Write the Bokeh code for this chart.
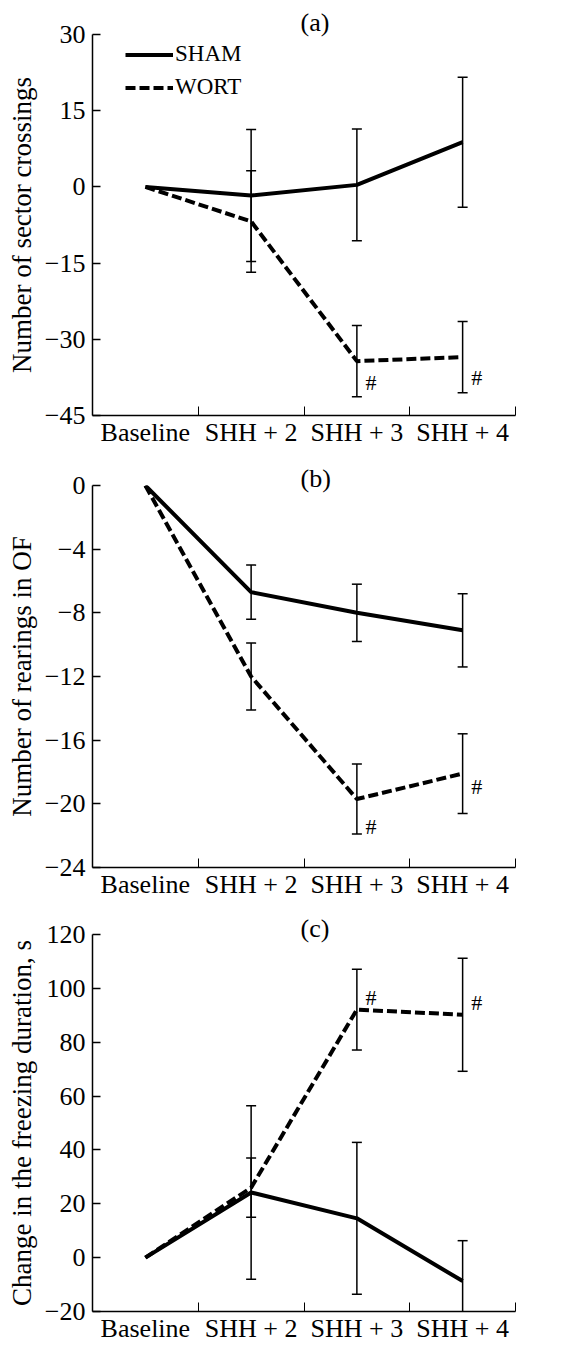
from bokeh.plotting import figure
from bokeh.models import FixedTicker, ColumnDataSource, Range1d, Title
from bokeh.layouts import column
from bokeh.embed import file_html
from bokeh.resources import INLINE
from bokeh.core.properties import value

# ---------------- data ----------------
categories = ["Baseline", "SHH + 2", "SHH + 3", "SHH + 4"]

a_sham = [0, -1.7, 0.4, 8.8]
a_sham_err = [0, 13.0, 11.0, 12.8]
a_wort = [0, -6.8, -34.3, -33.5]
a_wort_err = [0, 10.0, 7.0, 7.0]

b_sham = [0, -6.7, -8.0, -9.1]
b_sham_err = [0, 1.7, 1.8, 2.3]
b_wort = [0, -12.0, -19.7, -18.1]
b_wort_err = [0, 2.1, 2.2, 2.5]

c_sham = [0, 24.2, 14.6, -8.7]
c_sham_err = [0, 32.2, 28.2, 15.0]
c_wort = [0, 26.0, 92.1, 90.2]
c_wort_err = [0, 11.0, 15.0, 21.0]

a_ticks = [30, 15, 0, -15, -30, -45]
b_ticks = [0, -4, -8, -12, -16, -20, -24]
c_ticks = [120, 100, 80, 60, 40, 20, 0, -20]

significant = [False, False, True, True]   # "#" marks on WORT

FONT = "Liberation Serif"


def fmt(t):
    return ("\u2212" + str(abs(t))) if t < 0 else str(t)


def make_panel(letter, ylabel, yticks, sham, sham_err, wort, wort_err,
               hash_dy, height, top, bottom, title_standoff, legend=False):
    n = len(categories)
    xs = [i + 0.5 for i in range(n)]
    p = figure(width=564, height=height, output_backend="svg", toolbar_location=None,
               x_range=Range1d(0, n), y_range=Range1d(min(yticks), max(yticks)),
               min_border_left=92, min_border_right=49,
               min_border_top=top, min_border_bottom=bottom)
    p.outline_line_color = None
    p.xgrid.visible = False
    p.ygrid.visible = False

    # y axis
    ya = p.yaxis[0]
    ya.ticker = FixedTicker(ticks=yticks)
    ya.major_label_overrides = {t: fmt(t) for t in yticks}
    ya.major_tick_in = 8
    ya.major_tick_out = 0
    ya.minor_tick_line_color = None
    ya.axis_line_width = 1.5
    ya.major_tick_line_width = 1.5
    ya.major_label_standoff = 7
    ya.major_label_text_font = FONT
    ya.major_label_text_font_size = "26px"
    ya.major_label_text_color = "black"
    ya.axis_label = ylabel
    ya.axis_label_text_font = FONT
    ya.axis_label_text_font_size = "27px"
    ya.axis_label_text_font_style = "normal"
    ya.axis_label_text_color = "black"
    ya.axis_label_standoff = 5

    # x axis
    xa = p.xaxis[0]
    xa.ticker = FixedTicker(ticks=xs, minor_ticks=[1, 2, 3, 4])
    xa.major_label_overrides = {x: c for x, c in zip(xs, categories)}
    xa.major_tick_in = 0
    xa.major_tick_out = 0
    xa.minor_tick_in = 9
    xa.minor_tick_out = 0
    xa.minor_tick_line_width = 1
    xa.minor_tick_line_color = "black"
    xa.axis_line_width = 1.5
    xa.major_label_standoff = 2
    xa.major_label_text_font = FONT
    xa.major_label_text_font_size = "26px"
    xa.major_label_text_color = "black"

    # error bars (no bar at baseline)
    for m, e in ((sham, sham_err), (wort, wort_err)):
        src = ColumnDataSource(dict(
            x=xs[1:],
            hi=[v + d for v, d in zip(m[1:], e[1:])],
            lo=[v - d for v, d in zip(m[1:], e[1:])]))
        p.segment(x0="x", y0="lo", x1="x", y1="hi", source=src,
                  line_width=1.5, line_color="black")
        p.scatter(x="x", y="hi", source=src, marker="dash", size=10,
                  line_width=1.5, line_color="black")
        p.scatter(x="x", y="lo", source=src, marker="dash", size=10,
                  line_width=1.5, line_color="black")

    kw_s = dict(legend_label="SHAM") if legend else {}
    kw_w = dict(legend_label="WORT") if legend else {}
    p.line(xs, sham, line_width=4, line_color="black", line_join="round", **kw_s)
    p.line(xs, wort, line_width=4, line_color="black", line_dash="10 4",
           line_join="round", **kw_w)

    # significance marks
    hsrc = ColumnDataSource(dict(
        x=[x for x, s in zip(xs, significant) if s],
        y=[v for v, s in zip(wort, significant) if s],
        t=["#" for s in significant if s],
        dy=hash_dy))
    p.text(x="x", y="y", text="t", source=hsrc, x_offset=14, y_offset="dy",
           text_font=value(FONT), text_font_size="22px", text_color="black",
           text_align="center", text_baseline="middle")

    p.add_layout(Title(text=letter, align="left", offset=208,
                       standoff=title_standoff, text_font=FONT,
                       text_font_size="26px", text_font_style="normal",
                       text_color="black"), "above")

    fh = height - top - bottom
    if legend:
        lg = p.legend[0]
        lg.location = (33, fh - 3.5 - 66)
        lg.label_text_font = FONT
        lg.label_text_font_size = "23px"
        lg.label_text_color = "black"
        lg.glyph_width = 48
        lg.glyph_height = 33
        lg.label_height = 33
        lg.label_standoff = 2
        lg.spacing = 0
        lg.padding = 0
        lg.margin = 0
        lg.border_line_color = None
        lg.background_fill_alpha = 0
    return p


pa = make_panel("(a)", "Number of sector crossings", a_ticks,
                a_sham, a_sham_err, a_wort, a_wort_err,
                hash_dy=[21, 20], height=450, top=34, bottom=35,
                title_standoff=-4, legend=True)
pb = make_panel("(b)", "Number of rearings in OF", b_ticks,
                b_sham, b_sham_err, b_wort, b_wort_err,
                hash_dy=[27, 13], height=452, top=35, bottom=35,
                title_standoff=-14)
pc = make_panel("(c)", "Change in the freezing duration, s", c_ticks,
                c_sham, c_sham_err, c_wort, c_wort_err,
                hash_dy=[-12, -12], height=444, top=32, bottom=35,
                title_standoff=-16)

layout = column(pa, pb, pc, spacing=0)
open("out.html", "w").write(file_html(layout, INLINE))
